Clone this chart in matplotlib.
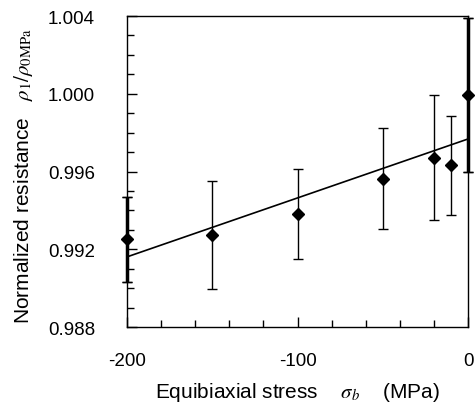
import numpy as np
import matplotlib
matplotlib.use("Agg")
import matplotlib.pyplot as plt
from matplotlib.ticker import MultipleLocator

plt.rcParams['font.family'] = ['Liberation Sans', 'DejaVu Sans']
plt.rcParams['mathtext.fontset'] = 'stix'
plt.rcParams['axes.unicode_minus'] = False

# equibiaxial stress (MPa) and normalized resistance with error limits
stress = [-200, -150, -100, -50, -20, -10, 0]
resist = [0.99253, 0.99275, 0.99381, 0.99561, 0.99669, 0.99633, 0.99992]
err_hi = [0.99469, 0.99549, 0.99613, 0.99824, 0.99995, 0.99886, 1.00390]
err_lo = [0.99031, 0.98996, 0.99148, 0.99304, 0.99350, 0.99378, 0.99596]

x = np.array(stress)
y = np.array(resist)
yerr = [y - np.array(err_lo), np.array(err_hi) - y]

fig = plt.figure(figsize=(4.76, 4.06), dpi=100)
ax = fig.add_axes([0.2668, 0.1921, 0.9832 - 0.2668, 0.9581 - 0.1921])

ax.errorbar(x, y, yerr=yerr, fmt='none', ecolor='black', elinewidth=1.0,
            capsize=3.5, capthick=1.0, clip_on=False, zorder=3)
# end points sit on the frame and read heavier
ends = [0, len(x) - 1]
ax.errorbar(x[ends], y[ends], yerr=[yerr[0][ends], yerr[1][ends]], fmt='none',
            ecolor='black', elinewidth=2.5, capsize=3.5, capthick=1.0,
            clip_on=False, zorder=3)
ax.plot(x, y, 'D', color='black', markersize=6.5, clip_on=False, zorder=4)

# linear fit
k, b = np.polyfit(x, y, 1)
xf = np.array([-200, 0])
ax.plot(xf, k * xf + b, color='black', lw=1.2, zorder=2)

ax.set_xlim(-200, 0)
ax.set_ylim(0.988, 1.004)
ax.set_xticks([-200, -100, 0])
ax.set_yticks([0.988, 0.992, 0.996, 1.000, 1.004])
ax.set_yticklabels(['0.988', '0.992', '0.996', '1.000', '1.004'])
ax.xaxis.set_minor_locator(MultipleLocator(20))
ax.yaxis.set_minor_locator(MultipleLocator(0.001))
ax.tick_params(axis='both', which='both', direction='in', labelsize=13.5,
               top=False, right=False)
ax.tick_params(axis='both', which='major', length=7, width=1.0)
ax.tick_params(axis='both', which='minor', length=5, width=1.0)
ax.tick_params(axis='y', which='major', pad=23)
ax.tick_params(axis='x', which='major', pad=18)
for s in ax.spines.values():
    s.set_linewidth(1.0)

ax.set_xlabel(r'Equibiaxial stress    $\mathit{\sigma_b}$    (MPa)', fontsize=15,
              labelpad=8)
ax.set_ylabel(r'Normalized resistance   $\mathit{\rho}_{\mathrm{1}}/\mathit{\rho}_{\mathrm{0MPa}}$',
              fontsize=15)
ax.yaxis.set_label_coords(-0.27, 0.487)

fig.savefig('out.png', dpi=100)
